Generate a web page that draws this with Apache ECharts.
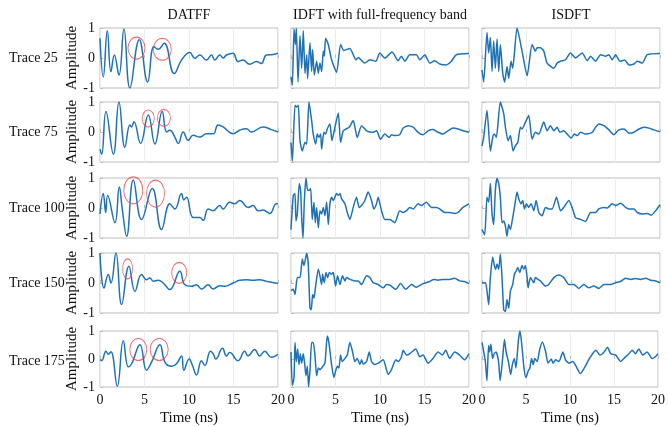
<!DOCTYPE html>
<html>
<head>
<meta charset="utf-8">
<script src="https://cdn.jsdelivr.net/npm/echarts@6/dist/echarts.min.js"></script>
<style>
  html, body { margin: 0; padding: 0; background: #fff; }
  #chart { width: 668px; height: 427px; }
</style>
</head>
<body>
<div id="chart"></div>
<script>
// column titles, row labels and time ticks
const methods = ['DATFF', 'IDFT with full-frequency band', 'ISDFT'];
const traces = ['Trace 25', 'Trace 75', 'Trace 100', 'Trace 150', 'Trace 175'];
const timeTicks = [0, 5, 10, 15, 20];

// waveforms: [time (ns), amplitude]
const datff25 = [[0,0.66],[0.37,-0.63],[0.82,0.91],[1.23,-0.46],[1.61,0.1],[2.13,-0.57],[2.69,0.97],[3.36,-1.0],[4.41,0.61],[5.35,-0.8],[6.06,0.38],[6.54,0.29],[7.21,0.49],[8.34,-0.52],[9.16,-0.07],[10.09,0.18],[10.65,-0.01],[11.21,0.1],[11.96,-0.07],[12.52,0.1],[12.9,-0.07],[13.46,0.1],[13.83,0],[14.21,0.1],[14.95,0.16],[15.51,-0.12],[16.07,-0.07],[16.82,-0.21],[17.57,-0.12],[18.13,-0.18],[18.69,0.1],[19.44,0.12],[20,0.16]];
const idft25 = [[0,-0.63],[0.15,-0.91],[0.34,0.97],[0.49,0.45],[0.6,0.99],[0.79,-0.8],[1.01,0.74],[1.2,-0.34],[1.38,0.91],[1.57,-0.51],[1.76,0.11],[1.87,-0.68],[2.13,0.51],[2.32,-0.45],[2.43,0.28],[2.62,-0.57],[2.88,-0.11],[3.07,-0.51],[3.25,-0.17],[3.44,-0.45],[3.63,0.23],[3.74,0.06],[3.89,0.66],[4.19,0.45],[4.56,-0.06],[5.12,-0.48],[5.57,0.45],[5.94,0.25],[6.62,0.32],[7.29,-0.06],[7.55,0.02],[8.3,-0.17],[8.86,-0.06],[9.53,-0.11],[9.98,0.17],[10.54,0],[11.36,0.2],[12.04,-0.09],[12.41,0.06],[12.79,-0.11],[13.35,0.11],[14.09,0.11],[14.47,-0.06],[15.03,0.11],[15.59,-0.17],[16.15,-0.09],[16.71,-0.2],[17.46,-0.23],[18.02,-0.11],[18.58,0.11],[20,0.15]];
const isdft25 = [[0,-0.4],[0.19,-0.8],[0.56,0.85],[0.75,0.17],[0.94,0.68],[1.13,-0.45],[1.31,0.57],[1.5,-0.34],[1.69,0.63],[1.88,-0.45],[2.06,0.45],[2.33,-0.51],[2.55,-0.8],[2.81,-0.28],[3.0,-0.68],[3.26,-0.11],[3.45,-0.34],[3.94,1.0],[4.5,0.23],[5.07,-0.59],[5.63,0.45],[6.0,0.23],[6.19,0.34],[6.57,0.34],[6.94,0.23],[7.32,-0.17],[8.07,-0.34],[8.44,-0.17],[8.82,-0.11],[9.38,-0.06],[9.94,0.17],[10.51,0],[11.26,0.17],[11.82,-0.09],[12.2,0.06],[12.76,-0.11],[13.32,0.11],[13.88,0.06],[14.26,0.11],[14.63,-0.06],[15.01,0.11],[15.5,-0.11],[16.02,-0.07],[16.51,-0.23],[17.07,-0.2],[17.45,-0.11],[18.01,-0.17],[18.57,0.11],[20,0.15]];

const datff75 = [[0,-0.57],[0.19,-0.74],[0.67,0.68],[1.5,-0.74],[2.13,1.0],[2.8,-0.51],[3.36,0.23],[3.55,0.17],[3.81,0.34],[4.56,-0.38],[5.42,0.57],[6.17,-0.4],[6.99,0.68],[7.48,0],[7.85,0.06],[8.41,-0.17],[8.79,-0.38],[9.35,0],[9.91,-0.28],[10.47,-0.11],[11.21,-0.17],[11.96,-0.06],[12.71,-0.06],[13.27,0.23],[13.83,0.17],[14.95,-0.06],[15.7,0.06],[16.45,0.11],[17.01,0],[18.32,0.17],[19.25,0.08],[20,0]];
const idft75 = [[0,-0.35],[0.15,-0.97],[0.45,0.89],[0.64,0.83],[0.82,0.89],[1.01,-0.29],[1.27,-0.63],[1.57,-0.35],[1.76,-0.4],[2.02,1.0],[2.32,0.38],[2.5,-0.07],[2.77,-0.4],[2.95,-0.07],[3.14,-0.18],[3.33,-0.07],[3.44,-0.57],[3.7,-0.01],[3.89,-0.07],[4.07,0.1],[4.37,0.27],[4.6,-0.29],[4.82,-0.01],[5.31,0.63],[5.57,-0.35],[5.87,0.04],[6.17,0.1],[6.54,0.16],[6.99,0.38],[7.44,-0.18],[7.93,0.21],[8.49,0.04],[9.23,-0.01],[9.61,0.04],[10.06,-0.24],[10.54,-0.07],[11.03,-0.18],[11.29,-0.09],[11.66,-0.12],[12.22,-0.09],[12.6,0.13],[13.16,0.21],[13.72,0.16],[14.28,-0.01],[14.84,-0.09],[15.4,0.04],[15.96,0.08],[16.52,-0.01],[17.08,-0.07],[17.64,0.04],[18.21,0.13],[18.77,0.1],[19.33,0.04],[20,-0.01]];
const isdft75 = [[0,-0.46],[0.19,-0.18],[0.56,0.72],[0.94,-0.63],[1.24,-0.12],[1.39,-0.07],[1.61,-0.18],[2.06,1.0],[2.44,0.61],[2.63,0.16],[2.93,-0.29],[3.19,-0.12],[3.49,-0.63],[3.75,-0.46],[4.02,-0.35],[4.32,0.16],[4.5,0.1],[4.88,0.33],[5.25,0.55],[5.63,-0.24],[6.0,-0.01],[6.38,-0.07],[6.94,0.33],[7.32,0.04],[7.69,0.21],[8.07,0.04],[8.44,0.16],[8.74,-0.01],[9.19,0.04],[9.57,-0.07],[10.02,-0.2],[10.39,-0.07],[10.69,-0.12],[11.07,-0.01],[11.63,-0.07],[12.38,-0.01],[12.76,0.16],[13.13,0.27],[13.7,0.21],[14.26,0.07],[14.82,-0.09],[15.38,0.07],[15.95,0.1],[16.51,-0.04],[17.07,-0.01],[17.64,0.1],[18.2,0.16],[18.76,0.13],[19.32,0.07],[20,0.01]];

const datff100 = [[0,-0.2],[0.37,0.48],[0.64,-0.15],[0.86,0.42],[1.68,-0.49],[2.17,0.7],[2.5,-0.03],[2.99,-0.94],[3.74,0.93],[4.67,-0.38],[5.87,0.65],[6.92,-0.72],[7.85,0.14],[8.41,-0.03],[9.16,0.48],[9.42,0.27],[9.72,0.36],[10.47,-0.32],[11.21,-0.32],[11.59,-0.41],[12.15,-0.03],[12.71,-0.09],[13.46,0.08],[13.83,-0.03],[14.58,0.19],[15.14,0.14],[15.7,0.25],[16.64,0.02],[17.2,0.08],[17.76,-0.09],[18.32,-0.07],[19.07,-0.18],[19.81,0.14],[20,0.14]];
const idft100 = [[0,-0.72],[0.26,0.42],[0.45,0.48],[0.56,-0.43],[0.71,-0.2],[0.93,0.82],[1.08,0.59],[1.2,-0.32],[1.35,-1.0],[1.5,0.25],[1.68,0.99],[1.87,0.59],[2.06,0.59],[2.21,0.65],[2.39,-0.38],[2.58,0.19],[2.73,-0.49],[2.88,0.02],[3.07,-0.66],[3.25,-0.09],[3.44,-0.2],[3.63,0.02],[3.81,-0.26],[4.0,0.19],[4.19,-0.55],[4.37,0.14],[4.56,0.36],[4.75,0.25],[5.12,0.48],[5.31,0.42],[5.5,0.48],[5.68,0.31],[6.06,0.14],[6.32,-0.15],[6.62,-0.38],[6.99,0.02],[7.36,0.36],[7.66,0.02],[7.93,0.08],[8.3,0.25],[8.67,0.53],[9.05,0.25],[9.31,-0.03],[9.61,0.14],[9.79,0.36],[10.17,-0.09],[10.54,-0.38],[11.1,-0.38],[11.66,-0.49],[12.22,-0.09],[12.6,-0.15],[12.97,-0.09],[13.35,0.02],[13.72,-0.03],[14.28,0.14],[14.65,0.08],[15.21,0.19],[15.78,0.02],[16.34,0.02],[16.71,-0.03],[17.27,-0.15],[17.83,-0.15],[18.39,-0.18],[18.77,-0.15],[19.33,0.02],[20,0.14]];
const isdft100 = [[0,-0.72],[0.3,-0.89],[0.56,0.36],[0.75,0.19],[0.94,0.82],[1.13,-0.2],[1.31,-0.55],[1.5,0.59],[1.69,0.99],[1.88,0.82],[2.06,0.36],[2.25,-0.49],[2.44,-0.43],[2.63,-0.6],[2.81,-0.94],[3.0,-0.55],[3.19,-0.72],[3.45,-0.32],[3.68,0.08],[3.94,0.53],[4.13,0.31],[4.39,0.14],[4.58,0.25],[4.77,-0.03],[4.99,0.14],[5.25,0.02],[5.52,0.14],[5.82,-0.09],[6.08,0.25],[6.38,-0.15],[6.75,-0.26],[7.13,0.02],[7.5,-0.03],[7.88,-0.03],[8.37,0.36],[8.82,-0.09],[9.19,0.02],[9.76,0.25],[10.13,0.02],[10.51,-0.32],[11.07,-0.38],[11.63,-0.45],[12.2,-0.15],[12.76,-0.15],[13.13,-0.03],[13.7,0.02],[14.07,0],[14.63,0.14],[15.01,0.08],[15.57,0.16],[16.13,0.02],[16.51,-0.03],[17.07,-0.03],[17.45,-0.15],[18.01,-0.2],[18.57,-0.18],[19.02,-0.24],[19.51,-0.09],[20,0.11]];

const datff150 = [[0,1.0],[0.45,-0.17],[0.93,0.28],[1.23,0],[1.79,1.0],[2.43,-0.72],[3.25,0.56],[3.93,-0.28],[4.67,0.28],[5.23,0.11],[5.61,0.17],[5.98,0.06],[6.54,0.09],[7.1,0],[7.85,-0.22],[8.97,0.39],[9.53,-0.06],[10.28,-0.11],[10.84,-0.06],[11.4,-0.2],[12.15,-0.06],[12.71,-0.2],[13.46,-0.09],[14.02,-0.11],[14.95,0],[15.7,0.09],[16.45,0.11],[17.2,0.09],[17.94,0.11],[18.69,0.06],[20,-0.02]];
const idft150 = [[0,-0.25],[0.26,-0.21],[0.45,-0.38],[0.71,0.18],[1.01,0.18],[1.27,0.8],[1.46,0.58],[1.76,0.99],[1.94,0.63],[2.13,-0.84],[2.28,-0.89],[2.43,-0.38],[2.58,-0.5],[2.77,-0.1],[3.07,0.46],[3.25,0.24],[3.44,-0.05],[3.55,0.29],[3.74,0.01],[3.93,0.35],[4.11,0.18],[4.3,0.35],[4.56,0.29],[4.75,0.35],[5.01,-0.1],[5.23,0.24],[5.5,-0.05],[5.79,0.24],[6.06,0.07],[6.24,0.18],[6.62,0.12],[7.18,0.07],[7.55,0.07],[7.93,-0.05],[8.49,0.24],[8.86,0.18],[9.23,0.01],[9.79,-0.05],[10.36,-0.16],[10.73,-0.05],[11.1,-0.07],[11.78,-0.21],[12.3,-0.02],[12.9,-0.21],[13.53,-0.05],[14.09,-0.14],[14.84,-0.02],[15.59,0.05],[16.04,0.12],[16.52,0.09],[17.08,0.12],[17.83,0.12],[18.39,0.16],[18.95,0.07],[19.51,0.05],[20,-0.02]];
const isdft150 = [[0,0.01],[0.38,0.01],[0.56,-0.27],[0.75,-0.72],[0.94,0.18],[1.2,0.86],[1.39,0.58],[1.54,0.46],[1.69,0.63],[1.88,0.46],[2.06,0.97],[2.25,0.18],[2.44,-0.89],[2.63,-0.95],[2.81,-0.55],[3.0,-0.84],[3.19,-0.27],[3.45,-0.05],[3.64,0.29],[3.86,0.41],[4.01,0.52],[4.24,0.35],[4.5,0.58],[4.69,0.46],[4.88,0.58],[5.07,0.18],[5.18,-0.16],[5.44,0.18],[5.82,0.01],[6.0,0.18],[6.3,0.12],[6.57,0.07],[7.13,-0.1],[7.5,-0.05],[8.07,0.18],[8.63,0.27],[9.19,0.18],[9.76,-0.05],[10.32,-0.05],[10.88,-0.18],[11.44,-0.05],[12.01,-0.16],[12.57,-0.1],[13.13,-0.18],[13.7,-0.05],[14.45,-0.05],[15.01,0.01],[15.57,0.05],[16.13,0.16],[16.7,0.12],[17.26,0.15],[17.82,0.12],[18.39,0.16],[18.95,0.09],[19.51,0.07],[20,0.01]];

const datff175 = [[0,-0.02],[0.19,-0.06],[0.67,0.28],[0.93,0.17],[1.23,0.26],[1.94,-0.97],[2.62,0.65],[3.18,-0.28],[3.55,-0.17],[4.49,0.51],[5.23,-0.4],[5.79,-0.11],[6.73,0.51],[7.29,-0.11],[8.04,-0.26],[8.6,-0.17],[9.16,0.11],[9.42,-0.4],[10.02,0],[10.39,-0.23],[10.84,-0.57],[11.4,-0.06],[11.78,-0.23],[12.41,0.28],[12.71,0.19],[13.01,0],[13.76,0.38],[14.21,0.11],[14.58,0.23],[15.51,-0.06],[16.26,0.28],[16.64,0.11],[17.38,0.34],[17.94,0.11],[18.5,0.28],[19.25,0.06],[20,0.17]];
const idft175 = [[0,0.25],[0.15,-0.94],[0.34,-0.66],[0.45,0.59],[0.6,-0.09],[0.75,0.36],[0.9,-0.2],[1.05,0.19],[1.2,-0.15],[1.38,0.19],[1.53,-0.15],[1.68,-0.6],[1.83,-0.26],[1.98,-1.0],[2.13,-0.43],[2.32,0.59],[2.5,0.59],[2.69,0.14],[2.88,-0.6],[3.07,-0.32],[3.25,-0.38],[3.44,-0.32],[3.81,-0.15],[4.07,0.82],[4.26,0.59],[4.56,-0.2],[4.82,-0.66],[5.01,-0.43],[5.2,-0.26],[5.38,-0.32],[5.57,0.14],[5.76,-0.09],[6.06,0.02],[6.32,0.14],[6.62,0.59],[6.92,0.25],[7.18,-0.09],[7.44,0.02],[7.74,-0.2],[7.93,-0.03],[8.11,-0.18],[8.49,-0.09],[8.79,0.25],[9.05,-0.09],[9.42,-0.2],[9.79,-0.15],[10.36,-0.03],[10.92,-0.55],[11.29,-0.38],[11.78,-0.03],[12.04,-0.09],[12.41,0.08],[12.6,0.31],[12.97,0.14],[13.35,0.19],[14.02,0.36],[14.47,0.08],[14.84,0.14],[15.4,-0.15],[15.96,0.02],[16.52,0.25],[17.01,0.14],[17.38,0.31],[17.83,0.02],[18.39,0.25],[18.95,0.14],[19.51,-0.03],[20,0.19]];
const isdft175 = [[0,0.59],[0.38,-0.09],[0.56,-0.77],[0.75,0.48],[0.86,0.25],[1.01,0.53],[1.2,0.02],[1.39,0.19],[1.61,0.25],[1.88,-0.09],[2.06,-0.77],[2.33,-0.03],[2.55,0.7],[2.74,0.25],[3.0,-0.09],[3.26,-0.55],[3.45,-0.2],[3.68,0.02],[3.86,-0.32],[4.13,0.65],[4.32,1.0],[4.5,0.59],[4.77,-0.32],[4.99,-0.66],[5.25,-0.43],[5.44,-0.32],[5.63,0.02],[5.82,-0.2],[6.0,0.02],[6.27,-0.09],[6.57,0.36],[6.87,0.61],[7.24,0.25],[7.5,-0.15],[7.88,0],[8.07,-0.15],[8.37,-0.03],[8.74,-0.09],[9.19,0.25],[9.49,-0.03],[9.87,-0.15],[10.32,-0.09],[10.69,-0.26],[11.18,-0.52],[11.63,-0.32],[12.12,-0.03],[12.57,0.19],[12.95,0.31],[13.4,0.14],[13.88,0.25],[14.26,0.42],[14.63,0.19],[15.2,0.14],[15.76,-0.09],[16.13,0.02],[16.7,0.19],[17.07,0.31],[17.45,0.19],[17.82,0.36],[18.27,0.14],[18.76,0.25],[19.32,0.02],[19.7,0.08],[20,0.19]];

// red circles marking reflections in the DATFF column: [time (ns), amplitude]
const marks25 = [[4.1, 0.33], [7.0, 0.29]];
const marks75 = [[5.42, 0.45], [7.18, 0.47]];
const marks100 = [[3.74, 0.59], [6.24, 0.48]];
const marks150 = [[3.1, 0.47], [8.9, 0.34]];
const marks175 = [[4.3, 0.34], [6.65, 0.34]];

const waves = [
    [datff25, idft25, isdft25],
    [datff75, idft75, isdft75],
    [datff100, idft100, isdft100],
    [datff150, idft150, isdft150],
    [datff175, idft175, isdft175],
];
const marks = [marks25, marks75, marks100, marks150, marks175];

// layout / style
const colLeft = [100, 291, 482];
const rowTop = [28, 102, 178, 253, 331];
const plotW = 178, plotH = 60;
const circleSizes = [[[17, 22], [18, 22]], [[12, 17], [13, 17]], [[19, 27], [18, 27]], [[10, 20], [15, 21]], [[17, 22], [18, 22]]];
const serif = 'Liberation Serif';
const lineColor = '#1f72b8';
const boxColor = '#bdbdbd';

let chart = echarts.init(document.getElementById('chart'));

let grids = [], xAxes = [], yAxes = [], series = [], graphics = [];

for (let r = 0; r < traces.length; r++) {
    for (let c = 0; c < methods.length; c++) {
        let idx = grids.length;
        let last = r === traces.length - 1;
        grids.push({
            left: colLeft[c], top: rowTop[r], width: plotW, height: plotH,
            show: true, borderColor: boxColor, borderWidth: 1, backgroundColor: '#fff'
        });
        xAxes.push({
            type: 'value', gridIndex: idx, min: timeTicks[0], max: timeTicks[timeTicks.length - 1], interval: 5,
            axisLine: { show: false },
            axisTick: { show: true, inside: true, length: 3, lineStyle: { color: boxColor } },
            axisLabel: { show: last, fontFamily: serif, fontSize: 14, color: '#111', margin: 6 },
            splitLine: { show: true, lineStyle: { color: '#ececec', width: 1 } },
            name: last ? 'Time (ns)' : '', nameLocation: 'middle', nameGap: 24,
            nameTextStyle: { fontFamily: serif, fontSize: 15, color: '#111' }
        });
        yAxes.push({
            type: 'value', gridIndex: idx, min: -1, max: 1, interval: 1,
            axisLine: { show: false },
            axisTick: { show: true, inside: true, length: 3, lineStyle: { color: boxColor } },
            axisLabel: { show: c === 0, fontFamily: serif, fontSize: 14, color: '#111', margin: 5 },
            splitLine: { show: false },
            name: c === 0 ? 'Amplitude' : '', nameLocation: 'middle', nameGap: 15,
            nameTextStyle: { fontFamily: serif, fontSize: 15, color: '#111' }
        });
        series.push({
            type: 'line', xAxisIndex: idx, yAxisIndex: idx,
            data: waves[r][c], showSymbol: false, smooth: c === 0 ? 0.45 : 0.2, clip: true,
            lineStyle: { color: lineColor, width: 1.5 }, silent: true, animation: false
        });
        if (c === 0) {
            series.push({
                type: 'scatter', xAxisIndex: idx, yAxisIndex: idx,
                data: marks[r].map((p, k) => ({ value: p, symbolSize: circleSizes[r][k] })),
                symbol: 'circle',
                itemStyle: { color: 'rgba(0,0,0,0)', borderColor: '#e8474c', borderWidth: 1 },
                silent: true, animation: false, z: 5
            });
        }
    }
}

// column titles
methods.forEach(function (m, c) {
    graphics.push({
        type: 'text', x: colLeft[c] + plotW / 2, y: 15,
        style: { text: m, font: '14px "' + serif + '"', fill: '#111', textAlign: 'center', textVerticalAlign: 'middle' }
    });
});

// row labels
traces.forEach(function (t, r) {
    graphics.push({
        type: 'text', x: 9, y: rowTop[r] + plotH / 2,
        style: { text: t, font: '14px "' + serif + '"', fill: '#111', textAlign: 'left', textVerticalAlign: 'middle' }
    });
});

const option = {
    backgroundColor: '#fff',
    animation: false,
    grid: grids,
    xAxis: xAxes,
    yAxis: yAxes,
    series: series,
    graphic: graphics,
};

chart.setOption(option);
</script>
</body>
</html>
